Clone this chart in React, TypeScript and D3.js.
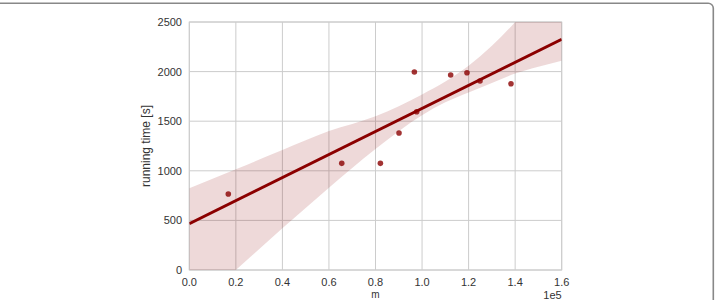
import React from "react";
import * as d3 from "d3";

const mValues = [16760, 65500, 82100, 90100, 96700, 97700, 112300, 119300, 124900, 138200];
const timeValues = [766, 1075, 1075, 1381, 1996, 1596, 1966, 1989, 1905, 1878];

const bandX = [0, 20000, 40000, 60000, 80000, 100000, 110000, 120000, 130000, 140000, 150000, 160000];
const bandUpper = [823, 1015, 1210, 1400, 1550, 1770, 1900, 2060, 2260, 2500, 2780, 3060];
const bandLower = [-420, 0, 420, 830, 1220, 1560, 1690, 1790, 1885, 1980, 2050, 2110];

const xTicks = [0, 20000, 40000, 60000, 80000, 100000, 120000, 140000, 160000];
const xTickLabels = ["0.0", "0.2", "0.4", "0.6", "0.8", "1.0", "1.2", "1.4", "1.6"];
const yTicks = [0, 500, 1000, 1500, 2000, 2500];

const W = 716;
const H = 300;
const L = 189.3, R = 561.7, T = 22, B = 270;

export default function App() {
  const x = d3.scaleLinear().domain([0, 160000]).range([L, R]);
  const y = d3.scaleLinear().domain([0, 2500]).range([B, T]);

  const n = mValues.length;
  const mx = d3.mean(mValues) as number;
  const my = d3.mean(timeValues) as number;
  let sxy = 0, sxx = 0;
  for (let i = 0; i < n; i++) {
    sxy += (mValues[i] - mx) * (timeValues[i] - my);
    sxx += (mValues[i] - mx) ** 2;
  }
  const slope = sxy / sxx;
  const intercept = my - slope * mx;

  const lineGen = d3.line<number>().x((d) => x(d)).y((d) => y(intercept + slope * d));
  const fitPath = lineGen([0, 160000]) as string;

  const area = d3
    .area<number>()
    .x((_, i) => x(bandX[i]))
    .y0((_, i) => y(bandLower[i]))
    .y1((_, i) => y(bandUpper[i]))
    .curve(d3.curveMonotoneX);
  const bandPath = area(bandX) as string;

  const font = "'Liberation Sans', Arial, sans-serif";
  const textColor = "#333";
  const grid = "#cccccc";

  return (
    <svg width={W} height={H} style={{ position: "absolute", left: 0, top: 0 }} fontFamily={font}>
      <rect x={0} y={0} width={W} height={H} fill="#fff" />
      <defs>
        <clipPath id="plotclip">
          <rect x={L} y={T} width={R - L} height={B - T} />
        </clipPath>
      </defs>
      {/* frame */}
      <path
        d={`M0,3.3 L708.3,3.3 A5,5 0 0 1 713.3,8.3 L713.3,${H}`}
        fill="none"
        stroke="#888"
        strokeWidth={1.6}
      />
      {/* grid */}
      {xTicks.map((t) => (
        <line key={"gx" + t} x1={x(t)} x2={x(t)} y1={T} y2={B} stroke={grid} strokeWidth={1} />
      ))}
      {yTicks.map((t) => (
        <line key={"gy" + t} x1={L} x2={R} y1={y(t)} y2={y(t)} stroke={grid} strokeWidth={1} />
      ))}
      <rect x={L} y={T} width={R - L} height={B - T} fill="none" stroke={grid} strokeWidth={1} />

      <g clipPath="url(#plotclip)">
        {mValues.map((m, i) => (
          <circle key={"p" + i} cx={x(m)} cy={y(timeValues[i])} r={2.8} fill="#8b0000" fillOpacity={0.8} />
        ))}
        <path d={bandPath} fill="#8b0000" fillOpacity={0.15} stroke="none" />
        <path d={fitPath} fill="none" stroke="#8b0000" strokeWidth={3} />
      </g>

      {/* tick labels */}
      {xTicks.map((t, i) => (
        <text key={"tx" + t} x={x(t)} y={286.3} fontSize={11} fill={textColor} textAnchor="middle">
          {xTickLabels[i]}
        </text>
      ))}
      {yTicks.map((t) => (
        <text key={"ty" + t} x={182} y={y(t)} dy="0.36em" fontSize={11} fill={textColor} textAnchor="end">
          {t}
        </text>
      ))}
      <text x={561.7} y={298.5} fontSize={11} fill={textColor} textAnchor="end">
        1e5
      </text>
      <text x={(L + R) / 2} y={297.8} fontSize={10} fill={textColor} textAnchor="middle">
        m
      </text>
      <text
        transform={`translate(149.5,${(T + B) / 2}) rotate(-90)`}
        fontSize={12}
        fill={textColor}
        textAnchor="middle"
      >
        running time [s]
      </text>
    </svg>
  );
}
